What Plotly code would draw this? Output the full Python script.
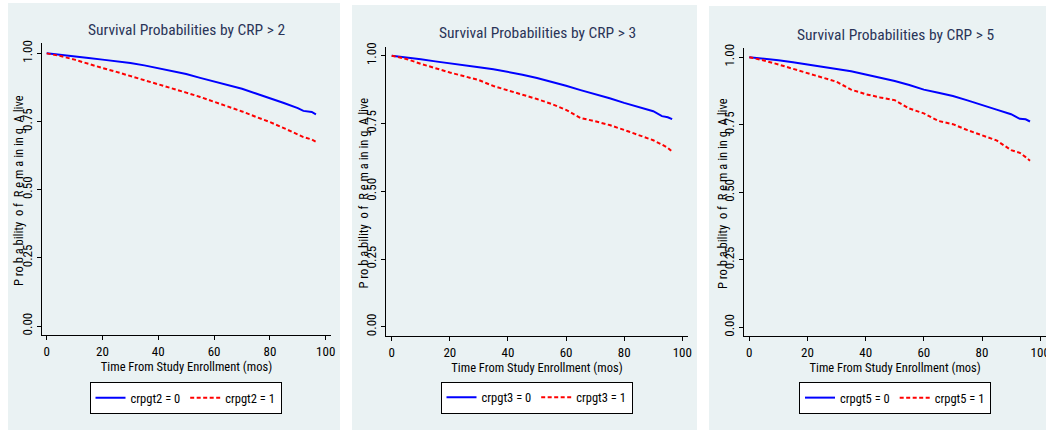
import plotly.graph_objects as go

# ---------------- data ----------------
panel_titles = ["Survival Probabilities by CRP > 2",
                "Survival Probabilities by CRP > 3",
                "Survival Probabilities by CRP > 5"]
group_names = [["crpgt2 = 0", "crpgt2 = 1"],
               ["crpgt3 = 0", "crpgt3 = 1"],
               ["crpgt5 = 0", "crpgt5 = 1"]]

months_crp2 = [0, 5, 10, 15, 20, 25, 30, 35, 40, 45, 50, 55, 60, 65, 70, 75, 80, 85, 90, 92, 95, 96.5]
surv_crp2_0 = [1.0, 0.995, 0.989, 0.983, 0.977, 0.972, 0.965, 0.956, 0.946, 0.936, 0.924, 0.910,
               0.896, 0.884, 0.870, 0.853, 0.836, 0.818, 0.799, 0.789, 0.785, 0.776]
surv_crp2_1 = [1.0, 0.990, 0.977, 0.961, 0.946, 0.932, 0.917, 0.902, 0.888, 0.872, 0.856, 0.840,
               0.823, 0.806, 0.787, 0.767, 0.748, 0.726, 0.702, 0.693, 0.684, 0.676]

months_crp3 = [0, 5, 10, 15, 20, 25, 30, 35, 40, 45, 50, 55, 60, 65, 70, 75, 80, 85, 90, 93, 95, 96.5]
surv_crp3_0 = [1.0, 0.994, 0.987, 0.979, 0.971, 0.964, 0.957, 0.950, 0.941, 0.930, 0.918, 0.904,
               0.889, 0.873, 0.859, 0.843, 0.826, 0.811, 0.795, 0.777, 0.773, 0.766]
surv_crp3_1 = [1.0, 0.988, 0.970, 0.953, 0.938, 0.924, 0.910, 0.888, 0.871, 0.856, 0.840, 0.822,
               0.800, 0.770, 0.758, 0.744, 0.726, 0.708, 0.688, 0.672, 0.660, 0.646]

months_crp5 = [0, 5, 10, 15, 20, 25, 30, 35, 40, 45, 50, 55, 60, 65, 70, 75, 80, 85, 90, 93, 95, 96.5]
surv_crp5_0 = [1.0, 0.995, 0.989, 0.981, 0.973, 0.966, 0.958, 0.948, 0.936, 0.925, 0.912, 0.897,
               0.880, 0.868, 0.856, 0.840, 0.822, 0.806, 0.789, 0.772, 0.770, 0.762]
surv_crp5_1 = [1.0, 0.988, 0.973, 0.957, 0.942, 0.926, 0.909, 0.880, 0.863, 0.851, 0.841, 0.810,
               0.792, 0.764, 0.752, 0.730, 0.711, 0.692, 0.656, 0.646, 0.630, 0.617]

y_tick_vals = [0, 0.25, 0.5, 0.75, 1.0]
y_tick_text = ["0.00", "0.25", "0.50", "0.75", "1.00"]
y_grid_vals = [0.25, 0.5, 0.75, 1.0]
x_tick_vals = [0, 20, 40, 60, 80, 100]
x_title = "Time From Study Enrollment (mos)"
y_title = "P ro b a bility  o f  R e m a in in g  A live"

months = [months_crp2, months_crp3, months_crp5]
surv0 = [surv_crp2_0, surv_crp3_0, surv_crp5_0]
surv1 = [surv_crp2_1, surv_crp3_1, surv_crp5_1]

# ---------------- layout geometry (pixels) ----------------
W, H = 1046, 431
FONT = "Roboto Condensed, Liberation Sans Narrow, Arial Narrow, Liberation Sans, sans-serif"
BG = "#EAF2F3"
TITLE_COLOR = "#2A3558"

def fx(px):
    return px / W

def fy(py):
    return 1 - py / H

panels = [
    dict(bg=(8, 3, 340, 430), plot=(42, 43, 331, 335), xr=(-1.68, 101.9), yr=(-0.033, 1.038),
         title_y=30, ytitle_x=18, legend=(185.5, 398)),
    dict(bg=(352, 5, 697, 430), plot=(386, 47, 688, 336), xr=(-1.96, 101.96), yr=(-0.034, 1.032),
         title_y=33, ytitle_x=363, legend=(536.5, 397.5)),
    dict(bg=(709, 6, 1060, 430), plot=(744.3, 48, 1046, 336), xr=(-1.72, 102.0), yr=(-0.032, 1.034),
         title_y=35, ytitle_x=722, legend=(895, 398)),
]

fig = go.Figure()
shapes = []
annotations = []
layout_axes = {}

for i, p in enumerate(panels):
    n = "" if i == 0 else str(i + 1)
    xa, ya = "x" + n, "y" + n
    leg = "legend" + n
    bx0, by0, bx1, by1 = p["bg"]
    shapes.append(dict(type="rect", xref="paper", yref="paper",
                       x0=fx(bx0), x1=fx(bx1), y0=fy(by1), y1=fy(by0),
                       fillcolor=BG, line_width=0, layer="below"))
    px0, py0, px1, py1 = p["plot"]
    layout_axes["xaxis" + n] = dict(
        domain=[fx(px0), fx(px1)], range=list(p["xr"]), anchor=ya,
        tickvals=x_tick_vals, ticks="outside", ticklen=4, tickcolor="black",
        showline=True, linecolor="black", linewidth=1, showgrid=False, zeroline=False,
        tickfont=dict(family=FONT, size=13, color="black"), ticklabeloverflow="allow",
        title=dict(text=x_title, font=dict(family=FONT, size=12.5, color="black"), standoff=2),
        automargin=False, fixedrange=True)
    layout_axes["yaxis" + n] = dict(
        domain=[fy(py1), fy(py0)], range=list(p["yr"]), anchor=xa,
        tickvals=y_tick_vals, ticktext=y_tick_text, tickangle=-90,
        ticks="outside", ticklen=4, tickcolor="black",
        showline=True, linecolor="black", linewidth=1, showgrid=False, zeroline=False,
        minor=dict(tickvals=y_grid_vals, showgrid=True, gridcolor=BG, gridwidth=1.5, ticks=""),
        tickfont=dict(family=FONT, size=13, color="black"),
        automargin=False, fixedrange=True)
    annotations.append(dict(text=panel_titles[i], xref="paper", yref="paper",
                            x=fx((px0 + px1) / 2), y=fy(p["title_y"]), xanchor="center", yanchor="middle",
                            showarrow=False, font=dict(family=FONT, size=15.5, color=TITLE_COLOR)))
    annotations.append(dict(text=y_title, xref="paper", yref="paper", textangle=-90,
                            x=fx(p["ytitle_x"]), y=fy((py0 + py1) / 2 + 2), xanchor="center", yanchor="middle",
                            showarrow=False, font=dict(family=FONT, size=12.5, color="black")))
    lx, ly = p["legend"]
    layout_axes[leg] = dict(x=fx(lx), y=fy(ly), xanchor="center", yanchor="middle",
                            orientation="h", bgcolor="white", bordercolor="black", borderwidth=1,
                            font=dict(family=FONT, size=12.5, color="black"), itemwidth=30,
                            itemclick=False, itemdoubleclick=False)
    fig.add_trace(go.Scatter(x=months[i], y=surv0[i], mode="lines", name=group_names[i][0],
                             line=dict(color="#0000FF", width=2), xaxis=xa, yaxis=ya, legend=leg))
    fig.add_trace(go.Scatter(x=months[i], y=surv1[i], mode="lines", name=group_names[i][1],
                             line=dict(color="#FF0000", width=2, dash="4px,2.5px"), xaxis=xa, yaxis=ya,
                             legend=leg))

fig.update_layout(width=W, height=H, margin=dict(l=0, r=0, t=0, b=0),
                  paper_bgcolor="white", plot_bgcolor="white", showlegend=True,
                  shapes=shapes, annotations=annotations, **layout_axes)

fig.write_html("out.html", config={"displayModeBar": False},
               post_script="document.body.style.margin='0';document.body.style.overflow='hidden';")
